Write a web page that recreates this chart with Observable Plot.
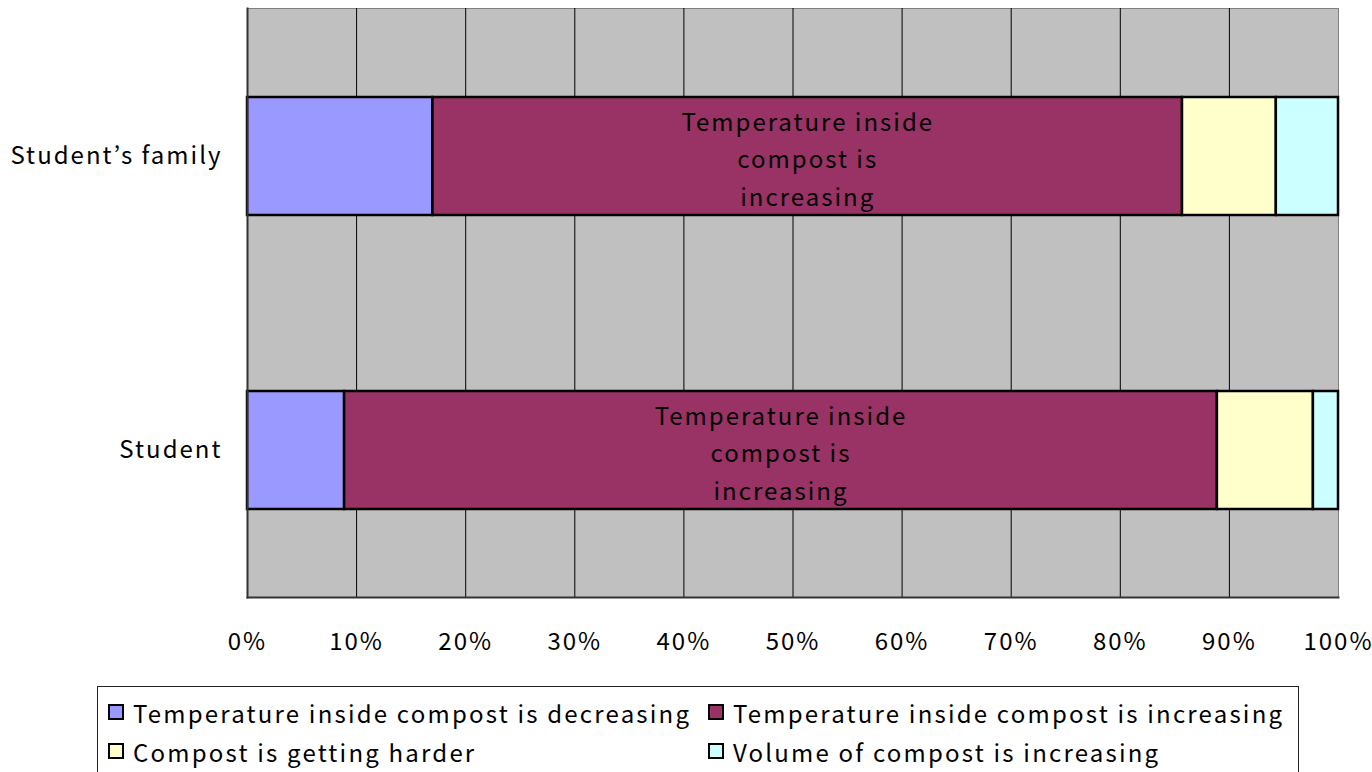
<!DOCTYPE html>
<html>
<head>
<meta charset="utf-8">
<script src="https://cdn.jsdelivr.net/npm/d3@7"></script>
<script src="https://cdn.jsdelivr.net/npm/@observablehq/plot@0.6"></script>
<style>
  html, body { margin: 0; padding: 0; background: #fff; overflow: hidden; }
  body { width: 1372px; height: 772px; position: relative; font-family: "Noto Sans CJK JP", sans-serif; }
  #chart { position: absolute; left: 0; top: 0; }
  #legend { position: absolute; left: 97px; top: 686px; width: 1202px; height: 100px; border: 1px solid #222; box-sizing: border-box; font-size: 24px; letter-spacing: 2.2px; color: #000; }
  .item { position: absolute; display: flex; align-items: center; white-space: nowrap; }
  .sw { width: 12px; height: 12px; border: 2px solid #000; margin-right: 9px; }
</style>
</head>
<body>
<div id="chart"></div>
<div id="legend"></div>
<script>
const groups = ["Student’s family", "Student"];
const categories = [
  "Temperature inside compost is decreasing",
  "Temperature inside compost is increasing",
  "Compost is getting harder",
  "Volume of compost is increasing"
];
const colors = ["#9999ff", "#993366", "#ffffcc", "#ccffff"];
const familyValues = [17.0, 68.7, 8.6, 5.7];
const studentValues = [8.9, 80.0, 8.8, 2.3];
const tickValues = [0, 10, 20, 30, 40, 50, 60, 70, 80, 90, 100];
const tickLabels = ["0%", "10%", "20%", "30%", "40%", "50%", "60%", "70%", "80%", "90%", "100%"];
const barLabel = "Temperature inside\ncompost is\nincreasing";

const rows = [];
[familyValues, studentValues].forEach((vals, gi) => {
  vals.forEach((v, ci) => rows.push({group: groups[gi], cat: categories[ci], value: v}));
});

const W = 1372, H = 686;
const chart = Plot.plot({
  width: W,
  height: H,
  marginLeft: 247,
  marginRight: 34,
  marginTop: 8,
  marginBottom: H - 597,
  style: {fontFamily: "'Noto Sans CJK JP', sans-serif", fontSize: "24px", background: "white", letterSpacing: "2px", overflow: "visible"},
  x: {domain: [0, 100], ticks: tickValues, label: null},
  y: {domain: groups, paddingInner: 0.6, paddingOuter: 0.3, label: null},
  color: {domain: categories, range: colors},
  marks: [
    Plot.frame({fill: "#c0c0c0", stroke: "#808080"}),
    Plot.ruleX(tickValues.slice(1, -1), {stroke: "#000", strokeWidth: 1}),
    Plot.barX(rows, Plot.stackX({x: "value", y: "group", fill: "cat", stroke: "#000", strokeWidth: 2.5, order: null})),
    Plot.text(rows, Plot.stackX({x: "value", y: "group", order: null,
      text: d => d.cat === categories[1] ? barLabel : null,
      lineHeight: 1.55, fontSize: 24, fill: "#000"})),
    Plot.frame({anchor: "left", stroke: "#333", strokeWidth: 2}),
    Plot.frame({anchor: "bottom", stroke: "#333", strokeWidth: 2}),
    Plot.axisX({ticks: tickValues, tickFormat: d => tickLabels[tickValues.indexOf(d)], tickSize: 0, tickPadding: 35, fontSize: 24, label: null}),
    Plot.axisY({tickSize: 0, tickPadding: 25, fontSize: 24, label: null})
  ]
});
document.getElementById("chart").appendChild(chart);

const legend = document.getElementById("legend");
const pos = [[10, 25], [610, 25], [10, 64], [610, 64]];
categories.forEach((c, i) => {
  const it = document.createElement("div");
  it.className = "item";
  it.style.left = pos[i][0] + "px";
  it.style.top = (pos[i][1] - 15) + "px";
  it.style.height = "30px";
  const sw = document.createElement("span");
  sw.className = "sw";
  sw.style.background = colors[i];
  const t = document.createElement("span");
  t.textContent = c;
  it.appendChild(sw);
  it.appendChild(t);
  legend.appendChild(it);
});
</script>
</body>
</html>
